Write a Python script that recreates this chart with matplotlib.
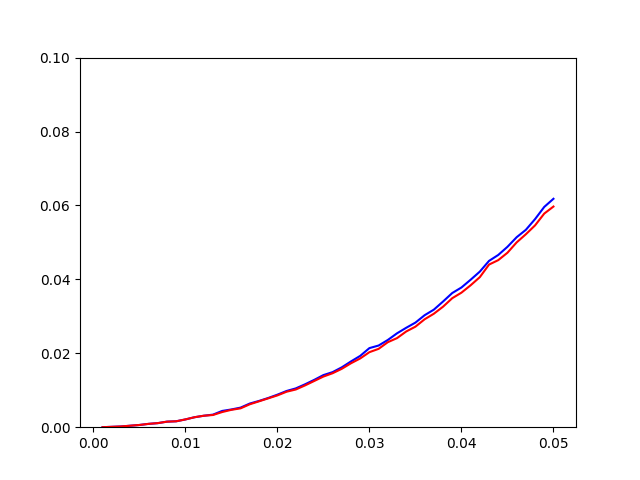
import numpy as np
import matplotlib
matplotlib.use('Agg')
import matplotlib.pyplot as plt

x = [0.001, 0.002, 0.003, 0.004, 0.005, 0.006, 0.007, 0.008, 0.009, 0.010,
     0.011, 0.012, 0.013, 0.014, 0.015, 0.016, 0.017, 0.018, 0.019, 0.020,
     0.021, 0.022, 0.023, 0.024, 0.025, 0.026, 0.027, 0.028, 0.029, 0.030,
     0.031, 0.032, 0.033, 0.034, 0.035, 0.036, 0.037, 0.038, 0.039, 0.040,
     0.041, 0.042, 0.043, 0.044, 0.045, 0.046, 0.047, 0.048, 0.049, 0.050]

blue = [0.0000, 0.0001, 0.0002, 0.0004, 0.0006, 0.0009, 0.0011, 0.0015, 0.0016, 0.0021,
        0.0027, 0.0031, 0.0034, 0.0044, 0.0048, 0.0053, 0.0064, 0.0071, 0.0079, 0.0088,
        0.0098, 0.0105, 0.0116, 0.0128, 0.0141, 0.0149, 0.0162, 0.0178, 0.0193, 0.0214,
        0.0221, 0.0236, 0.0254, 0.0269, 0.0283, 0.0303, 0.0318, 0.0340, 0.0363, 0.0378,
        0.0399, 0.0421, 0.0450, 0.0466, 0.0488, 0.0514, 0.0534, 0.0563, 0.0596, 0.0618]

red = [0.0000, 0.0001, 0.0002, 0.0004, 0.0006, 0.0009, 0.0011, 0.0015, 0.0016, 0.0021,
       0.0027, 0.0031, 0.0033, 0.0041, 0.0047, 0.0051, 0.0062, 0.0070, 0.0078, 0.0086,
       0.0096, 0.0102, 0.0113, 0.0125, 0.0137, 0.0146, 0.0158, 0.0173, 0.0186, 0.0203,
       0.0212, 0.0230, 0.0241, 0.0259, 0.0272, 0.0292, 0.0307, 0.0326, 0.0349, 0.0364,
       0.0384, 0.0406, 0.0440, 0.0452, 0.0472, 0.0500, 0.0522, 0.0546, 0.0578, 0.0597]

fig, ax = plt.subplots(figsize=(6.4, 4.8), dpi=100)
ax.plot(x, blue, color='blue')
ax.plot(x, red, color='red')
ax.set_ylim(0, 0.1)

plt.savefig('out.png')
